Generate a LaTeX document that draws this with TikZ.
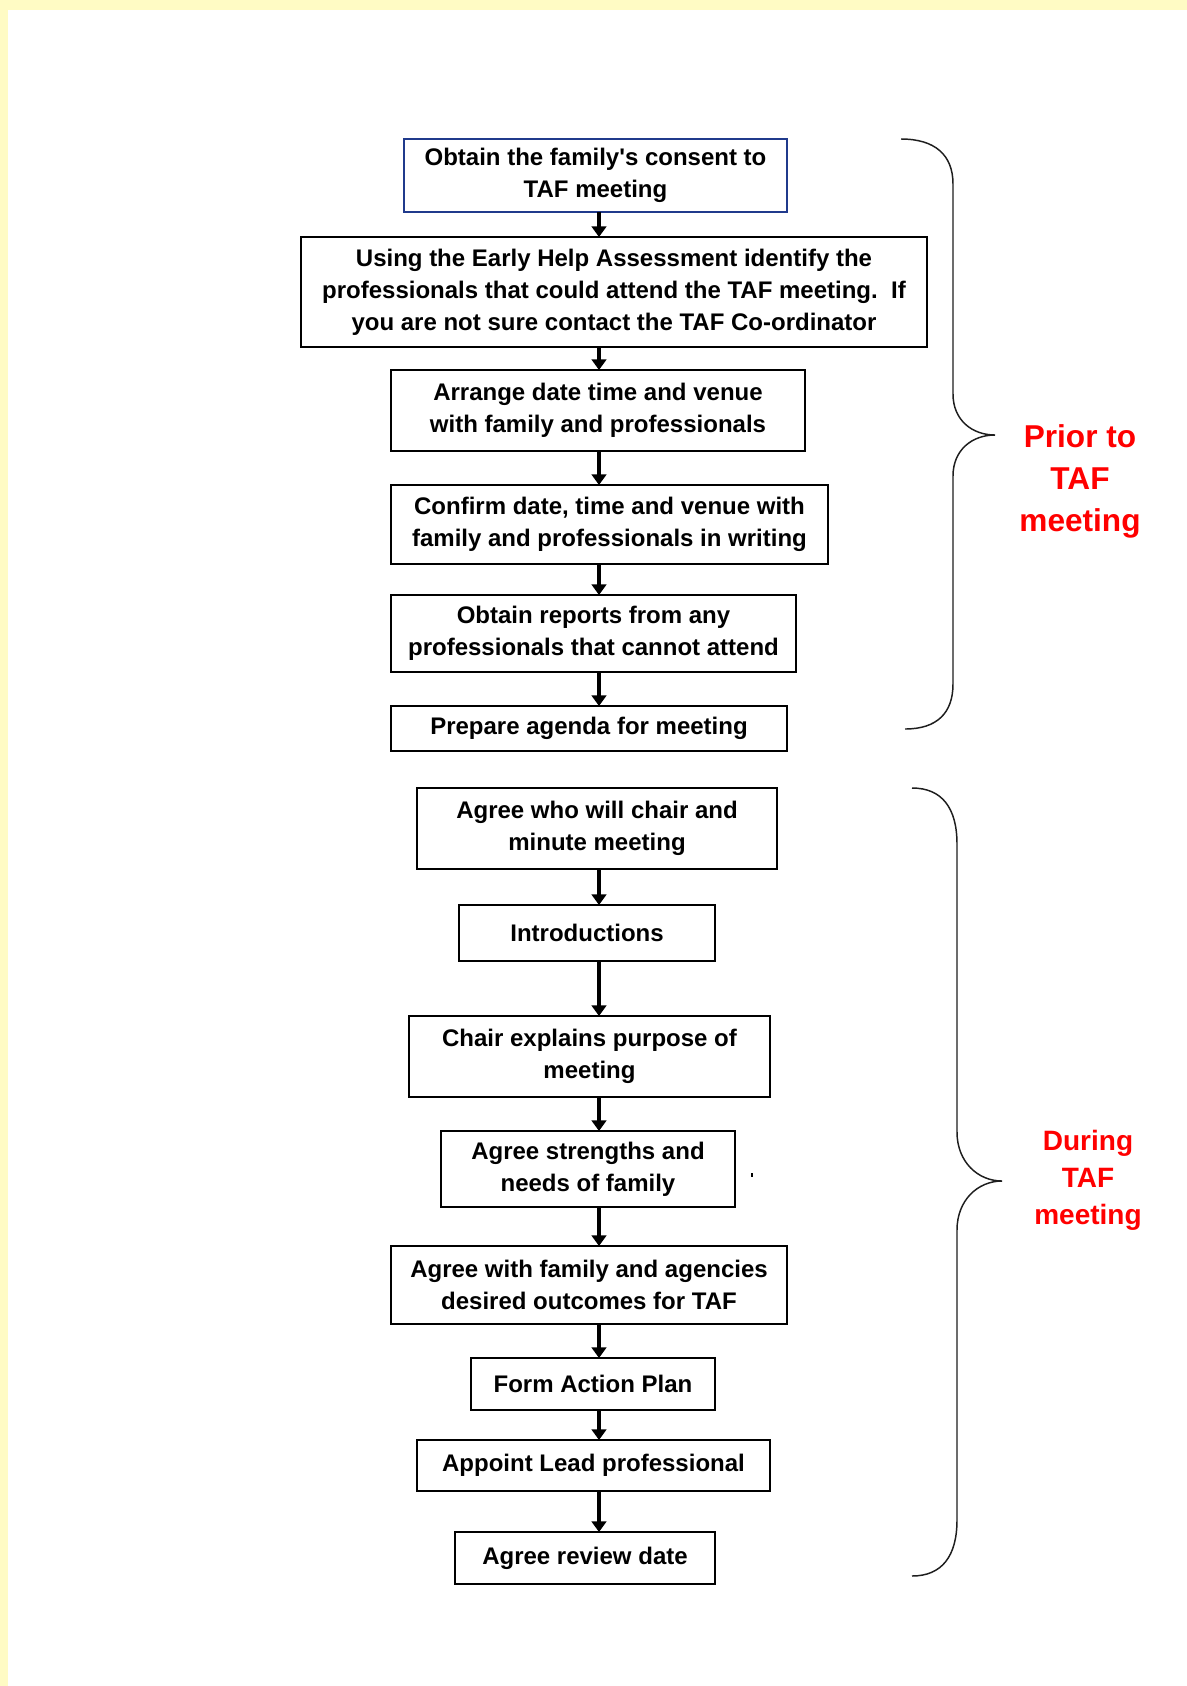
\documentclass[tikz,border=0pt]{standalone}
\usepackage{fontspec}
\setmainfont{Liberation Sans}
\usetikzlibrary{arrows.meta}
\definecolor{bgyellow}{RGB}{255,251,196}
\definecolor{boxblue}{RGB}{32,58,140}
\definecolor{bracegray}{RGB}{30,30,30}
\begin{document}
\begin{tikzpicture}[x=0.75pt,y=-0.75pt,
  box/.style={draw=black, line width=1.3pt, inner sep=0pt, outer sep=0pt, align=center,
    font=\bfseries\fontsize{18pt}{24pt}\selectfont, text=black},
  sz/.style 2 args={minimum width={#1*0.75pt}, minimum height={#2*0.75pt}},
  arr/.style={line width=3pt, -{Triangle[width=11pt,length=8pt]}},
  brace/.style={draw=bracegray, line width=1.1pt},
  sidebig/.style={text=red, align=center, font=\bfseries\fontsize{23.7pt}{31.5pt}\selectfont},
  sidesmall/.style={text=red, align=center, font=\bfseries\fontsize{21pt}{27.75pt}\selectfont}]
\useasboundingbox (0,0) rectangle (1187,1686);
\fill[white] (0,0) rectangle (1187,1686);
\fill[bgyellow] (0,0) rectangle (1187,10);
\fill[bgyellow] (0,0) rectangle (8,1686);

\coordinate (ax) at (599,0);

\node[box, draw=boxblue, sz={383}{73}] (b1) at (595.5,175.5) {Obtain the family\textquotesingle s consent to\\TAF meeting};
\node[box, sz={626}{110}] (b2) at (614,292) {Using the Early Help Assessment identify the\\professionals that could attend the TAF meeting.\ \ If\\you are not sure contact the TAF Co-ordinator};
\node[box, sz={414}{81}] (b3) at (598,410.5) {Arrange date time and venue\\with family and professionals};
\node[box, sz={437}{79}] (b4) at (609.5,524.5) {Confirm date, time and venue with\\family and professionals in writing};
\node[box, sz={405}{77}] (b5) at (593.5,633.5) {Obtain reports from any\\professionals that cannot attend};
\node[box, sz={396}{45}] (b6) at (589,728.5) {Prepare agenda for meeting};

\node[box, sz={360}{81}] (b7) at (597,828.5) {Agree who will chair and\\minute meeting};
\node[box, sz={256}{56}] (b8) at (587,933) {Introductions};
\node[box, sz={361}{81}] (b9) at (589.5,1056.5) {Chair explains purpose of\\meeting};
\node[box, sz={294}{76}] (b10) at (588,1169) {Agree strengths and\\needs of family};
\node[box, sz={396}{78}] (b11) at (589,1285) {Agree with family and agencies\\desired outcomes for TAF};
\node[box, sz={244}{52}] (b12) at (593,1384) {Form Action Plan};
\node[box, sz={353}{51}] (b13) at (593.5,1465.5) {Appoint Lead professional};
\node[box, sz={260}{52}] (b14) at (585,1558) {Agree review date};

\foreach \a/\b in {b1/b2,b2/b3,b3/b4,b4/b5,b5/b6,b7/b8,b8/b9,b9/b10,b10/b11,b11/b12,b12/b13,b13/b14}
  \draw[arr] (\a.south -| ax) -- (\b.north -| ax);

% top brace
\draw[brace] (901,139) .. controls (935,139) and (953,155) .. (953,184)
  -- (953,394) .. controls (953,420) and (972,435) .. (995,435)
  .. controls (972,435) and (953,450) .. (953,476)
  -- (953,684) .. controls (953,713) and (937,729) .. (905,729);
% bottom brace
\draw[brace] (912,788) .. controls (942,788) and (957,808) .. (957,844)
  -- (957,1132) .. controls (957,1162) and (978,1181) .. (1002,1181)
  .. controls (978,1181) and (957,1200) .. (957,1230)
  -- (957,1520) .. controls (957,1556) and (942,1576) .. (912,1576);

\node[sidebig] (prior) at (1080,481) {Prior to\\TAF\\meeting};
\node[sidesmall] (during) at (1088,1180) {During\\TAF\\meeting};

\fill[black] (751,1173) rectangle (753,1177);
\end{tikzpicture}
\end{document}
